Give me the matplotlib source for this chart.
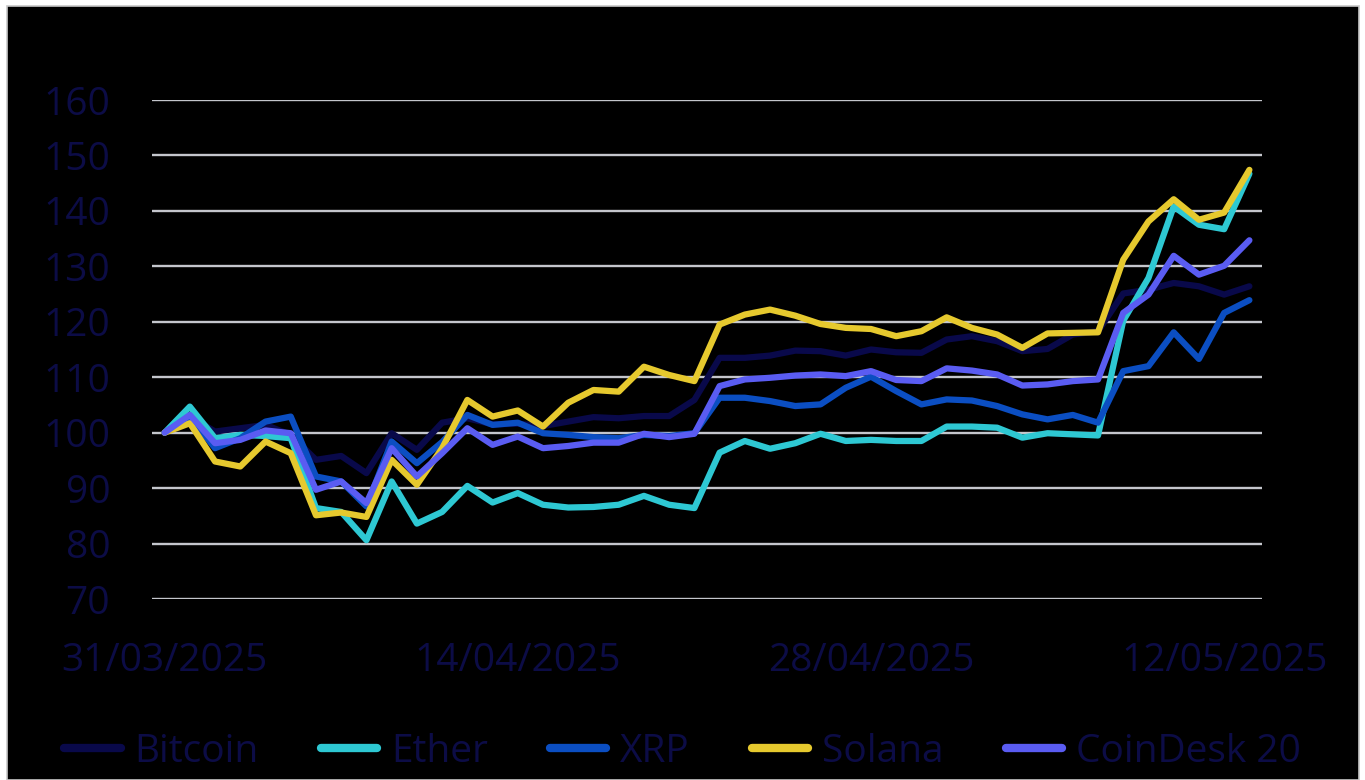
import numpy as np
import pandas as pd
import matplotlib
matplotlib.use('Agg')
import matplotlib.pyplot as plt
from matplotlib.patches import Rectangle

dates = pd.date_range('2025-03-31', '2025-05-13', freq='D')
tick_dates = pd.to_datetime(['2025-03-31', '2025-04-14', '2025-04-28', '2025-05-12'])
tick_labels = ['31/03/2025', '14/04/2025', '28/04/2025', '12/05/2025']

bitcoin = [100, 102.9, 100.2, 100.8, 101.4, 99.6, 95.1, 95.8, 92.7, 99.9, 96.9,
           101.8, 102.6, 101.5, 101.6, 101.2, 102.0, 102.8, 102.6, 103.0, 103.0,
           105.9, 113.5, 113.5, 113.9, 114.8, 114.7, 113.9, 115.0, 114.5, 114.4,
           116.8, 117.4, 116.5, 114.7, 115.1, 117.7, 118.3, 125.1, 125.8, 127.0,
           126.4, 124.9, 126.4]
ether = [100, 104.7, 99.0, 99.6, 99.4, 99.0, 86.4, 85.7, 80.6, 91.2, 83.6,
         85.7, 90.4, 87.4, 89.1, 87.0, 86.5, 86.6, 87.0, 88.6, 87.0,
         86.4, 96.4, 98.5, 97.1, 98.1, 99.8, 98.5, 98.7, 98.5, 98.5,
         101.1, 101.1, 100.9, 99.1, 99.9, 99.7, 99.5, 120.2, 127.9, 140.8,
         137.5, 136.7, 146.7]
xrp = [100, 102.9, 97.2, 99.0, 102.0, 102.9, 92.1, 91.2, 86.7, 98.4, 94.5,
       98.3, 103.2, 101.4, 101.8, 99.9, 99.6, 99.2, 99.0, 99.6, 99.4,
       99.9, 106.3, 106.3, 105.7, 104.8, 105.1, 108.1, 110.1, 107.5, 105.1,
       106.0, 105.8, 104.8, 103.3, 102.4, 103.2, 101.8, 111.1, 112.0, 118.1,
       113.3, 121.6, 123.9]
solana = [100, 101.7, 94.8, 93.9, 98.4, 96.3, 85.1, 85.6, 84.8, 95.1, 90.6,
          97.2, 105.9, 102.9, 104.0, 101.1, 105.4, 107.7, 107.4, 111.9, 110.4,
          109.3, 119.5, 121.3, 122.2, 121.1, 119.6, 118.9, 118.7, 117.4, 118.3,
          120.8, 118.9, 117.7, 115.3, 117.9, 118.0, 118.1, 131.2, 138.1, 142.1,
          138.4, 139.7, 147.4]
coindesk20 = [100, 103.2, 98.1, 98.7, 100.4, 99.9, 89.7, 91.2, 87.3, 97.2, 92.1,
              96.3, 100.8, 97.8, 99.3, 97.2, 97.6, 98.2, 98.2, 99.8, 99.2,
              99.8, 108.4, 109.6, 109.9, 110.3, 110.5, 110.2, 111.1, 109.5, 109.3,
              111.6, 111.2, 110.5, 108.5, 108.7, 109.3, 109.6, 121.6, 124.9, 131.9,
              128.5, 130.1, 134.7]

series = [
    ('Bitcoin', bitcoin, '#09094a'),
    ('Ether', ether, '#2ec8d3'),
    ('XRP', xrp, '#0b4ec2'),
    ('Solana', solana, '#e6c92e'),
    ('CoinDesk 20', coindesk20, '#5a5cf2'),
]

text_color = '#0c0c46'
plt.rcParams['font.family'] = ['Open Sans', 'DejaVu Sans']

fig = plt.figure(figsize=(13.65, 7.8), dpi=100, facecolor='white')
# black chart area with a thin grey frame
fig.patches.append(Rectangle((7 / 1365, 0), 1352 / 1365, 1 - 6 / 780,
                             transform=fig.transFigure, facecolor='black',
                             edgecolor='#c8c8c8', linewidth=1.2, zorder=-10))

ax = fig.add_axes([152 / 1365, 1 - 599 / 780, 1110 / 1365, 499 / 780])
ax.set_facecolor('none')

for name, vals, color in series:
    ax.plot(dates, vals, color=color, linewidth=4.5, label=name,
            solid_joinstyle='round', solid_capstyle='round')

ax.set_ylim(70, 160)
ax.set_yticks(np.arange(70, 161, 10))
ax.set_xlim(dates[0] - pd.Timedelta(hours=12), dates[-1] + pd.Timedelta(hours=12))
ax.set_xticks(tick_dates)
ax.set_xticklabels(tick_labels)

ax.grid(axis='y', color='#c4c6cc', linewidth=1.7)
ax.set_axisbelow(True)
for s in ax.spines.values():
    s.set_visible(False)
ax.tick_params(axis='both', length=0, labelsize=28, labelcolor=text_color)
ax.tick_params(axis='y', pad=30)
ax.tick_params(axis='x', pad=31)

leg = fig.legend(loc='center', bbox_to_anchor=(0.5, 1 - 752 / 780), ncol=5,
                 frameon=False, fontsize=28, handlelength=1.45,
                 handletextpad=0.35, columnspacing=1.6)
for t in leg.get_texts():
    t.set_color(text_color)
for h in leg.get_lines():
    h.set_linewidth(6)

fig.savefig('out.png', dpi=100, facecolor=fig.get_facecolor())
